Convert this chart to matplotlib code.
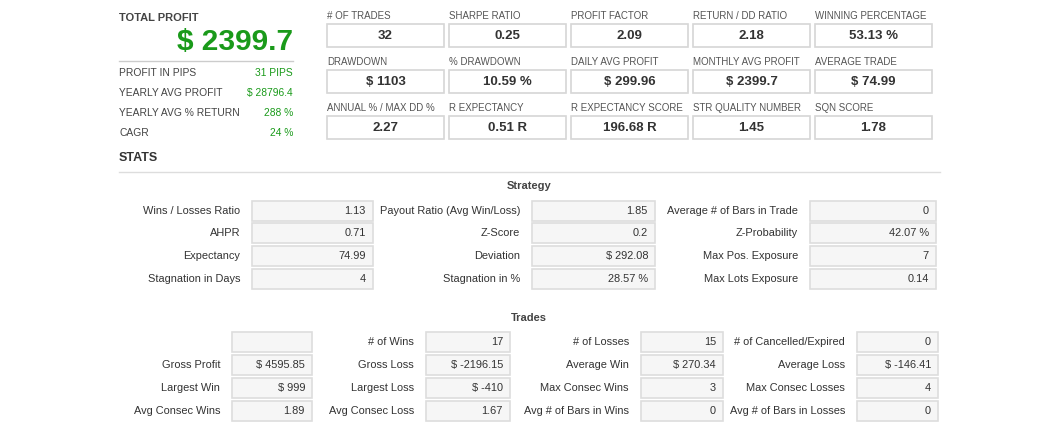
import matplotlib
matplotlib.use("Agg")
import matplotlib.pyplot as plt
from matplotlib.patches import Rectangle

GREEN = "#1a9a1a"
DARK = "#333333"

total_profit = "$ 2399.7"
side_labels = ["PROFIT IN PIPS", "YEARLY AVG PROFIT", "YEARLY AVG % RETURN", "CAGR"]
side_values = ["31 PIPS", "$ 28796.4", "288 %", "24 %"]

metric_labels = [["# OF TRADES", "SHARPE RATIO", "PROFIT FACTOR", "RETURN / DD RATIO", "WINNING PERCENTAGE"],
                 ["DRAWDOWN", "% DRAWDOWN", "DAILY AVG PROFIT", "MONTHLY AVG PROFIT", "AVERAGE TRADE"],
                 ["ANNUAL % / MAX DD %", "R EXPECTANCY", "R EXPECTANCY SCORE", "STR QUALITY NUMBER", "SQN SCORE"]]
metric_values = [["32", "0.25", "2.09", "2.18", "53.13 %"],
                 ["$ 1103", "10.59 %", "$ 299.96", "$ 2399.7", "$ 74.99"],
                 ["2.27", "0.51 R", "196.68 R", "1.45", "1.78"]]

strategy_labels = [["Wins / Losses Ratio", "Payout Ratio (Avg Win/Loss)", "Average # of Bars in Trade"],
                   ["AHPR", "Z-Score", "Z-Probability"],
                   ["Expectancy", "Deviation", "Max Pos. Exposure"],
                   ["Stagnation in Days", "Stagnation in %", "Max Lots Exposure"]]
strategy_values = [["1.13", "1.85", "0"],
                   ["0.71", "0.2", "42.07 %"],
                   ["74.99", "$ 292.08", "7"],
                   ["4", "28.57 %", "0.14"]]

trades_labels = [["", "# of Wins", "# of Losses", "# of Cancelled/Expired"],
                 ["Gross Profit", "Gross Loss", "Average Win", "Average Loss"],
                 ["Largest Win", "Largest Loss", "Max Consec Wins", "Max Consec Losses"],
                 ["Avg Consec Wins", "Avg Consec Loss", "Avg # of Bars in Wins", "Avg # of Bars in Losses"]]
trades_values = [["", "17", "15", "0"],
                 ["$ 4595.85", "$ -2196.15", "$ 270.34", "$ -146.41"],
                 ["$ 999", "$ -410", "3", "4"],
                 ["1.89", "1.67", "0", "0"]]

fig = plt.figure(figsize=(10.54, 4.4), dpi=100)
ax = fig.add_axes([0, 0, 1, 1])
ax.set_xlim(0, 1054)
ax.set_ylim(440, 0)
ax.axis("off")
FONT = "Liberation Sans"

def t(x, y, s, **kw):
    kw.setdefault("fontfamily", FONT)
    kw.setdefault("va", "center")
    kw.setdefault("color", DARK)
    ax.text(x, y, s, **kw)

# Left summary
t(119, 18, "TOTAL PROFIT", fontsize=8, fontweight="bold", color="#444444")
t(293, 42, total_profit, fontsize=21.5, fontweight="bold", color=GREEN, ha="right")
ax.plot([119, 293], [61, 61], color="#cccccc", lw=1)
for i, (l, v) in enumerate(zip(side_labels, side_values)):
    y = 73 + 20 * i
    t(119, y, l, fontsize=7.4, color="#444444")
    t(293, y, v, fontsize=7.4, color=GREEN, ha="right")

# Metric grid
xs = [327, 449, 571, 693, 815]
for r in range(3):
    ly = 16 + 46 * r
    for c in range(5):
        t(xs[c], ly, metric_labels[r][c], fontsize=7, color="#555555")
        ax.add_patch(Rectangle((xs[c], ly + 8), 117, 23, fc="white", ec="#d6d6d6", lw=1.2))
        t(xs[c] + 58.5, ly + 20, metric_values[r][c], fontsize=9.5, fontweight="bold", ha="center")

t(119, 158, "STATS", fontsize=9, fontweight="bold")
ax.plot([119, 940], [172, 172], color="#dddddd", lw=1)

def table(row_y, lab_x, box_x, box_w, labels, values):
    for r, y in enumerate(row_y):
        for c in range(len(lab_x)):
            if labels[r][c]:
                t(lab_x[c], y, labels[r][c], fontsize=7.9, ha="right")
            ax.add_patch(Rectangle((box_x[c], y - 10), box_w[c], 20, fc="#f6f6f6", ec="#dddddd", lw=1.2))
            if values[r][c]:
                t(box_x[c] + box_w[c] - 7, y, values[r][c], fontsize=7.9, ha="right")

t(529, 186, "Strategy", fontsize=8, fontweight="bold", ha="center", color="#444444")
table([211, 233, 256, 279], [240, 520, 798], [252, 532, 810], [121, 123, 126],
      strategy_labels, strategy_values)

t(529, 318, "Trades", fontsize=8, fontweight="bold", ha="center", color="#444444")
table([342, 365, 388, 411], [220, 414, 629, 845], [232, 426, 641, 857], [80, 84, 82, 81],
      trades_labels, trades_values)

fig.savefig("out.png", dpi=100, facecolor="white")
